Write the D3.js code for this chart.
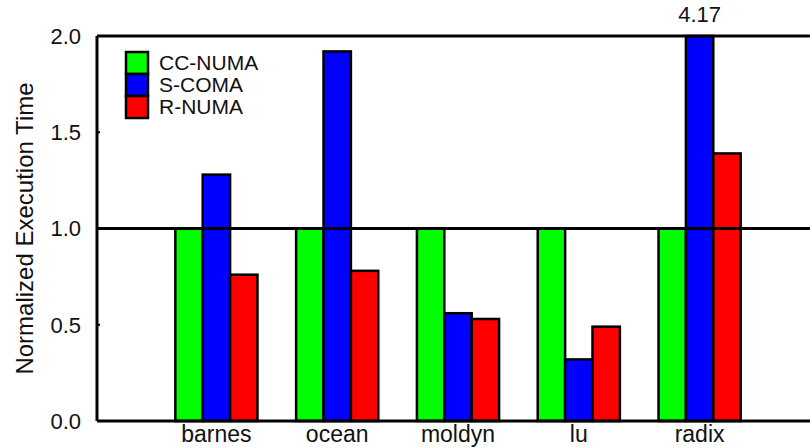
<!DOCTYPE html>
<html>
<head>
<meta charset="utf-8">
<script src="https://cdn.jsdelivr.net/npm/d3@7"></script>
<style>
  body { margin: 0; background: #fff; }
  text { font-family: "Liberation Sans", Arial, sans-serif; fill: #111; }
</style>
</head>
<body>
<div id="chart"></div>
<script>
var categories = ["barnes", "ocean", "moldyn", "lu", "radix"];
var seriesNames = ["CC-NUMA", "S-COMA", "R-NUMA"];
var seriesColors = ["#00ff00", "#0000ff", "#ff0000"];
var ccNuma = [1.0, 1.0, 1.0, 1.0, 1.0];
var sComa = [1.28, 1.92, 0.56, 0.32, 4.17];
var rNuma = [0.76, 0.78, 0.53, 0.49, 1.39];
var yTicks = [0.0, 0.5, 1.0, 1.5, 2.0];
var yMax = 2.0;

var width = 810, height = 448;
var margin = { top: 36, right: 0, bottom: 27, left: 97 };

var values = [ccNuma, sComa, rNuma];

var svg = d3.select("#chart")
    .append("svg")
    .attr("width", width)
    .attr("height", height);

var y = d3.scaleLinear()
    .domain([0, yMax])
    .range([height - margin.bottom, margin.top]);

var x0 = d3.scaleBand()
    .domain(categories)
    .range([156, 760])
    .paddingInner(0.32)
    .paddingOuter(0.16);

var x1 = d3.scaleBand()
    .domain(seriesNames)
    .range([0, x0.bandwidth()]);

//bars
var groups = svg.append("g")
    .selectAll("g")
    .data(categories)
    .join("g")
    .attr("transform", (d) => "translate(" + x0(d) + ",0)");

groups.selectAll("rect")
    .data((d, i) => seriesNames.map((s, j) => ({ s: s, j: j, v: values[j][i] })))
    .join("rect")
    .attr("x", (d) => x1(d.s))
    .attr("width", x1.bandwidth())
    .attr("y", (d) => y(Math.min(d.v, yMax)))
    .attr("height", (d) => y(0) - y(Math.min(d.v, yMax)))
    .attr("fill", (d) => seriesColors[d.j])
    .attr("stroke", "#000")
    .attr("stroke-width", 2.5);

//value label for the clipped bar
categories.forEach(function(c, i) {
    values.forEach(function(arr, j) {
        if (arr[i] > yMax) {
            svg.append("text")
                .attr("x", x0(c) + x1(seriesNames[j]) + x1.bandwidth() / 2)
                .attr("y", margin.top - 14)
                .attr("text-anchor", "middle")
                .attr("font-size", "22px")
                .text(arr[i].toFixed(2));
        }
    });
});

//frame lines: left axis, bottom, top, and 1.0 reference
var x2 = width - margin.right;
svg.append("line")
    .attr("x1", margin.left).attr("x2", margin.left)
    .attr("y1", y(yMax)).attr("y2", y(0))
    .attr("stroke", "#000").attr("stroke-width", 3);
[0, 1.0, yMax].forEach(function(v) {
    svg.append("line")
        .attr("x1", margin.left).attr("x2", x2)
        .attr("y1", y(v)).attr("y2", y(v))
        .attr("stroke", "#000").attr("stroke-width", 3);
});

//y ticks
var yAxis = svg.append("g");
yAxis.selectAll("line")
    .data(yTicks)
    .join("line")
    .attr("x1", margin.left).attr("x2", margin.left + 3)
    .attr("y1", (d) => y(d)).attr("y2", (d) => y(d))
    .attr("stroke", "#000").attr("stroke-width", 2);
yAxis.selectAll("text")
    .data(yTicks)
    .join("text")
    .attr("x", 81)
    .attr("y", (d) => y(d))
    .attr("dy", "0.36em")
    .attr("text-anchor", "end")
    .attr("font-size", "22px")
    .text((d) => d.toFixed(1));

//x labels
svg.append("g")
    .selectAll("text")
    .data(categories)
    .join("text")
    .attr("x", (d) => x0(d) + x0.bandwidth() / 2)
    .attr("y", 442)
    .attr("text-anchor", "middle")
    .attr("font-size", "23px")
    .text((d) => d);

//y axis label
svg.append("text")
    .attr("transform", "translate(33," + y(1.0) + ") rotate(-90)")
    .attr("text-anchor", "middle")
    .attr("font-size", "24px")
    .text("Normalized Execution Time");

//legend
var legend = svg.append("g").attr("transform", "translate(126,52)");
var rowH = 22;
legend.selectAll("rect")
    .data(seriesNames)
    .join("rect")
    .attr("x", 0)
    .attr("y", (d, i) => i * rowH)
    .attr("width", 22)
    .attr("height", rowH)
    .attr("fill", (d, i) => seriesColors[i])
    .attr("stroke", "#000")
    .attr("stroke-width", 2.5);
legend.selectAll("text")
    .data(seriesNames)
    .join("text")
    .attr("x", 33)
    .attr("y", (d, i) => i * rowH + rowH - 4)
    .attr("font-size", "21px")
    .text((d) => d);
</script>
</body>
</html>
